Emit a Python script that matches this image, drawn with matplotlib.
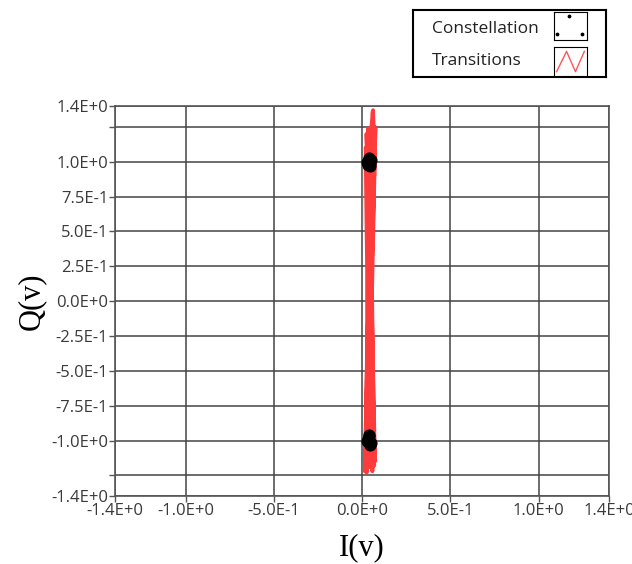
import matplotlib.pyplot as plt

# constellation points (I, Q)
const_i = [0.030, 0.040, 0.045, 0.035, 0.050, 0.038, 0.042, 0.030, 0.040, 0.045, 0.035, 0.050, 0.038, 0.042]
const_q = [1.00, 1.02, 0.99, 0.98, 1.01, 1.03, 0.97, -1.00, -0.97, -1.01, -0.99, -1.02, -0.96, -1.03]

# transition trace between symbols
trans_i = [0.040, 0.020, 0.060, 0.030, 0.070, 0.015, 0.055, 0.025, 0.075, 0.035,
           0.060, 0.020, 0.050, 0.030, 0.070, 0.018, 0.065, 0.040, 0.020, 0.072,
           0.035, 0.058, 0.025, 0.068, 0.045, 0.062, 0.068, 0.060, 0.072, 0.040]
trans_q = [1.00, -1.20, 1.22, -1.18, 1.25, -1.22, 1.20, -1.23, 1.24, -1.19,
           1.21, -1.22, 1.23, -1.20, 1.18, -1.21, 1.25, -1.00, 1.10, -1.15,
           1.24, -1.22, 1.20, -1.18, 1.15, 1.37, 0.90, 1.36, 1.05, 1.00]
spur_i = [0.002, 0.002]
spur_q = [1.05, 0.55]

xticks = [-1.4, -1.0, -0.5, 0.0, 0.5, 1.0, 1.4]
xlabels = ['-1.4E+0', '-1.0E+0', '-5.0E-1', '0.0E+0', '5.0E-1', '1.0E+0', '1.4E+0']
yticks = [-1.4, -1.25, -1.0, -0.75, -0.5, -0.25, 0.0, 0.25, 0.5, 0.75, 1.0, 1.25, 1.4]
ylabels = ['-1.4E+0', '', '-1.0E+0', '-7.5E-1', '-5.0E-1', '-2.5E-1', '0.0E+0',
           '2.5E-1', '5.0E-1', '7.5E-1', '1.0E+0', '', '1.4E+0']

plt.rcParams['font.family'] = ['Open Sans', 'DejaVu Sans']

fig = plt.figure(figsize=(6.32, 5.64), dpi=100)
ax = fig.add_axes([0.182, 0.120, 0.782, 0.692])

ax.plot(trans_i, trans_q, color='#ff3b3b', linewidth=2.8, zorder=3)
ax.plot(spur_i, spur_q, color='#777777', linewidth=1.0, zorder=3)
ax.scatter(const_i, const_q, s=60, color='black', zorder=4)

ax.set_xlim(-1.4, 1.4)
ax.set_ylim(-1.4, 1.4)
ax.set_xticks(xticks)
ax.set_xticklabels(xlabels)
ax.set_yticks(yticks)
ax.set_yticklabels(ylabels)
ax.grid(True, color='#444444', linewidth=1.1)
ax.set_axisbelow(True)
ax.tick_params(direction='out', length=4, width=1, color='#555555',
               labelcolor='#3a3a3a', labelsize=12, pad=1)
for s in ax.spines.values():
    s.set_color('#555555')
    s.set_linewidth(1.2)

ax.set_ylabel('Q(v)', family='Liberation Serif', fontsize=22, labelpad=4)
ax.set_xlabel('I(v)', family='Liberation Serif', fontsize=22, labelpad=10)

# legend box
lg = fig.add_axes([413 / 632, 1 - 77 / 564, 193 / 632, 67 / 564])
lg.set_xticks([])
lg.set_yticks([])
for s in lg.spines.values():
    s.set_linewidth(1.5)
lg.text(0.10, 0.72, 'Constellation', fontsize=12.5, va='center', color='#222222', transform=lg.transAxes)
lg.text(0.10, 0.24, 'Transitions', fontsize=12.5, va='center', color='#222222', transform=lg.transAxes)

ic1 = fig.add_axes([554 / 632, 1 - 40 / 564, 33 / 632, 28 / 564])
ic1.set_xticks([])
ic1.set_yticks([])
ic1.scatter([0.45, 0.1, 0.85], [0.85, 0.2, 0.2], s=3, color='black')
ic1.set_xlim(0, 1)
ic1.set_ylim(0, 1)

ic2 = fig.add_axes([554 / 632, 1 - 76 / 564, 33 / 632, 29 / 564])
ic2.set_xticks([])
ic2.set_yticks([])
ic2.plot([0.08, 0.38, 0.65, 0.92], [0.15, 0.85, 0.15, 0.85], color='#ff5555', linewidth=1)
ic2.set_xlim(0, 1)
ic2.set_ylim(0, 1)

fig.savefig('out.png', dpi=100)
